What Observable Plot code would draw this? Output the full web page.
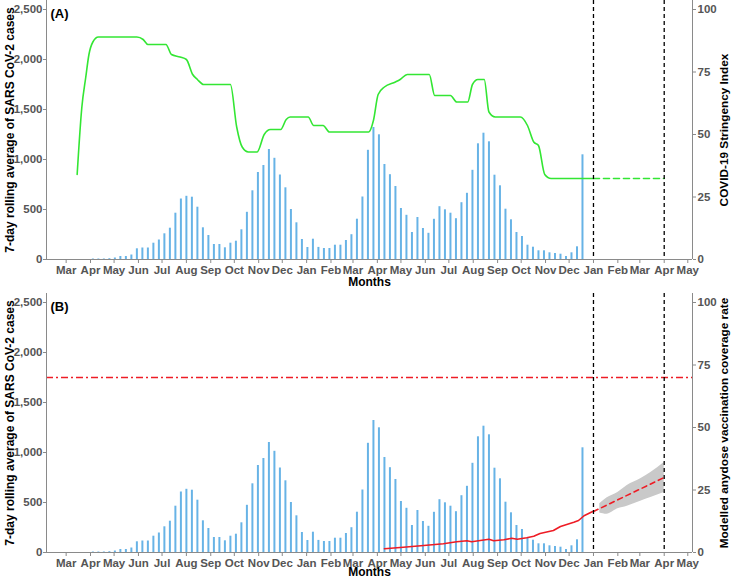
<!DOCTYPE html>
<html><head><meta charset="utf-8">
<script src="https://cdn.jsdelivr.net/npm/d3@7"></script>
<script src="https://cdn.jsdelivr.net/npm/@observablehq/plot@0.6"></script>
<style>
body{margin:0;background:#fff;}
#chart svg{display:block;}
</style></head><body><div id="chart"></div>
<script>
// ---- data ----
const firstWeek = "2020-04-04"; // weekly 7-day rolling average, one bar per week
const weeklyCases = [5,5,5,8,15,30,30,45,107,115,115,163,195,257,313,463,605,632,623,523,
  317,240,150,150,117,163,183,297,472,687,870,940,1100,1012,845,717,500,367,200,120,
  203,121,110,110,143,143,190,248,403,625,1092,1320,1247,950,848,730,510,442,270,420,
  310,262,402,528,497,463,408,568,662,892,1157,1263,1177,843,737,503,397,270,230,143,
  123,87,87,67,60,53,30,67,127,1047];

const stringencyDates = ["2020-03-15","2020-03-21","2020-03-26","2020-03-30","2020-04-04","2020-04-11","2020-05-30","2020-06-07","2020-06-13","2020-07-06","2020-07-13","2020-07-24","2020-08-01","2020-08-09","2020-08-15","2020-08-23","2020-09-26","2020-10-04","2020-10-11","2020-10-19","2020-10-30","2020-11-08","2020-11-16","2020-11-29","2020-12-06","2020-12-11","2021-01-03","2021-01-10","2021-01-22","2021-01-30","2021-03-21","2021-03-27","2021-04-02","2021-04-10","2021-04-24","2021-04-30","2021-05-09","2021-06-06","2021-06-13","2021-07-03","2021-07-11","2021-07-25","2021-07-31","2021-08-07","2021-08-15","2021-08-21","2021-08-29","2021-09-30","2021-10-09","2021-10-17","2021-10-23","2021-10-31","2021-11-08","2022-01-01"];
const stringencyValues = [34,61,73,82,87,89,89,88,86,86,82,81,80,74,72,70,70,53,45,43,43,50,52,52,56,57,57,53.6,53.6,51,51,55.6,66,69,71,72,74,74,65.6,65.6,63,63,70,72,72,59,57,57,53.6,47,45.6,34,32.4,32.4];
const stringencyProjDates = ["2022-01-01","2022-04-01"];
const stringencyProjValues = [32.4,32.4];

const vaccDates = ["2021-04-10","2021-05-04","2021-05-30","2021-06-24","2021-07-11","2021-07-24","2021-07-30","2021-08-10","2021-08-21","2021-08-27","2021-09-09","2021-09-19","2021-09-26","2021-10-08","2021-10-17","2021-10-25","2021-11-11","2021-11-20","2021-12-07","2021-12-13","2021-12-20","2021-12-31"];
const vaccValues = [1.5,2.1,2.8,3.5,4.3,4.7,4.3,4.8,5.3,4.7,5.1,5.7,5.3,5.9,6.5,7.6,8.8,10.4,12.1,12.8,14.7,16.4];
const vaccProjDates = ["2022-01-01","2022-04-01"];
const vaccProjValues = [16.4,30];
const bandDates = ["2022-01-09","2022-01-18","2022-02-01","2022-02-13","2022-03-02","2022-03-15","2022-04-01"];
const bandLow  = [15.8,15.3,17.5,18.5,20.5,22,24];
const bandHigh = [19.5,21.8,24,26.8,29.5,32,36];
const vaccTarget = [70];

const cutoffDates = ["2022-01-01","2022-04-01"];
const leftTicks = [0,500,1000,1500,2000,2500];
const rightTicks = [0,25,50,75,100];
const xStart = "2020-02-05", xEnd = "2022-05-07";
const monthStart = "2020-03-01", monthEnd = "2022-05-02";

// ---- build tables ----
const D = s => new Date(s + "T00:00:00Z");
const cases = weeklyCases.map((v,i) => ({date: d3.utcDay.offset(D(firstWeek), 7*i), value: v}));
const stringency = stringencyDates.map((d,i) => ({date: D(d), v: stringencyValues[i]}));
const stringencyProj = stringencyProjDates.map((d,i) => ({date: D(d), v: stringencyProjValues[i]}));
const vacc = vaccDates.map((d,i) => ({date: D(d), v: vaccValues[i]}));
const vaccProj = vaccProjDates.map((d,i) => ({date: D(d), v: vaccProjValues[i]}));
const band = bandDates.map((d,i) => ({date: D(d), lo: bandLow[i], hi: bandHigh[i]}));
const monthTicks = d3.utcMonth.range(D(monthStart), D(monthEnd));
const K = 2500/100; // right-axis (0-100) onto left-axis (0-2,500)

const FONT = "Arial, 'Liberation Sans', sans-serif";
const BLUE = "#67b3e6", GREEN = "#33e633", RED = "#ee1c25", AXIS = "#8a8a8a", TICKTXT = "#555";

function panel({label, rightTitle, height, marginBottom, monthsDy, extra}) {
  return Plot.plot({
    width: 731, height, marginLeft: 46, marginRight: 39, marginTop: 0, marginBottom,
    x: {type: "utc", domain: [D(xStart), D(xEnd)]},
    y: {domain: [0, 2590]},
    style: {fontFamily: FONT, fontSize: "11.5px", fontWeight: "bold", background: "white", overflow: "visible"},
    marks: [
      Plot.ruleX(cases, {x: "date", y1: 0, y2: "value", stroke: BLUE, strokeWidth: 2}),
      ...extra,
      Plot.ruleX(cutoffDates.map(D), {stroke: "black", strokeWidth: 1.3, strokeDasharray: "4,3"}),
      Plot.ruleY([0], {stroke: AXIS}),
      Plot.ruleX([D(xStart)], {stroke: AXIS}),
      Plot.ruleX([D(xEnd)], {stroke: AXIS}),
      Plot.axisX({ticks: monthTicks, tickFormat: d3.utcFormat("%b"), tickSize: 4, tickPadding: 2, stroke: AXIS, fill: TICKTXT, label: null}),
      Plot.axisY({anchor: "left", ticks: leftTicks, tickFormat: d3.format(","), tickSize: 3, tickPadding: 1, stroke: AXIS, fill: TICKTXT, label: null}),
      Plot.axisY({anchor: "right", ticks: rightTicks.map(t => t*K), tickFormat: d => String(d/K), tickSize: 3, tickPadding: 2, stroke: AXIS, fill: TICKTXT, label: null}),
      Plot.text(["Months"], {frameAnchor: "bottom", dy: monthsDy, fill: "black", fontWeight: "bold", fontSize: 12}),
      Plot.text(["7-day rolling average of SARS CoV-2 cases"], {frameAnchor: "left", textAnchor: "middle", dx: -36, rotate: -90, fill: "black", fontWeight: "bold", fontSize: 12}),
      Plot.text([rightTitle], {frameAnchor: "right", textAnchor: "middle", dx: 32, rotate: -90, fill: "black", fontWeight: "bold", fontSize: 11.8}),
      Plot.text([label], {frameAnchor: "top-left", dx: 4, dy: 8, textAnchor: "start", fill: "black", fontWeight: "bold", fontSize: 13})
    ]
  });
}

const chart = document.getElementById("chart");
chart.append(panel({
  label: "(A)", rightTitle: "COVID-19 Stringency Index", height: 293, marginBottom: 34, monthsDy: 26,
  extra: [
    Plot.line(stringency, {x: "date", y: d => d.v*K, stroke: GREEN, strokeWidth: 1.6, curve: "monotone-x"}),
    Plot.line(stringencyProj, {x: "date", y: d => d.v*K, stroke: GREEN, strokeWidth: 1.6, strokeDasharray: "6,4"})
  ]
}));
chart.append(panel({
  label: "(B)", rightTitle: "Modelled anydose vaccination coverage rate", height: 286, marginBottom: 27, monthsDy: 23,
  extra: [
    Plot.ruleY(vaccTarget, {y: d => d*K, stroke: RED, strokeWidth: 1.5, strokeDasharray: "7,3,2,3"}),
    Plot.areaY(band, {x: "date", y1: d => d.lo*K, y2: d => d.hi*K, fill: "#c9c9c9", curve: "monotone-x"}),
    Plot.line(vacc, {x: "date", y: d => d.v*K, stroke: RED, strokeWidth: 1.6}),
    Plot.line(vaccProj, {x: "date", y: d => d.v*K, stroke: RED, strokeWidth: 1.6, strokeDasharray: "5,4"})
  ]
}));
</script></body></html>
